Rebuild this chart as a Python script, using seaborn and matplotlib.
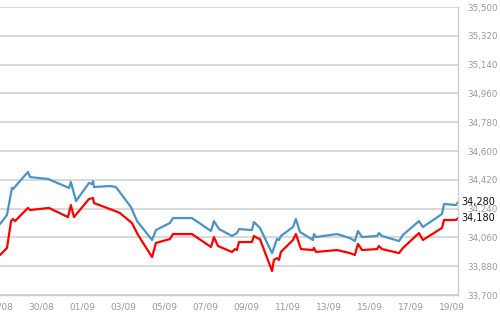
import numpy as np
import pandas as pd
import matplotlib
matplotlib.use("Agg")
import matplotlib.pyplot as plt
import matplotlib.dates as mdates
from matplotlib.ticker import FuncFormatter
import seaborn as sns

# ---- data (day offsets from 28/08 00:00, values) ----
start_date = "2025-08-28"
blue_days = [0.0, 0.34, 0.58, 0.63, 1.36, 1.46, 2.34, 3.36, 3.45, 3.70, 4.33, 4.48, 4.53, 4.57,
             5.35, 5.64, 6.37, 6.67, 7.40, 7.59, 8.27, 8.42, 9.34, 10.27, 10.41, 10.66, 11.29,
             11.53, 11.63, 12.26, 12.36, 12.51, 12.65, 13.24, 13.33, 13.48, 13.58, 13.67, 14.26,
             14.40, 14.60, 15.23, 15.28, 15.38, 16.40, 17.03, 17.27, 17.42, 17.62, 18.35, 18.44,
             18.59, 19.42, 19.61, 20.39, 20.58, 21.51, 21.61, 22.19, 22.29]
blue_vals = [34144, 34200, 34369, 34362, 34469, 34437, 34425, 34369, 34406, 34287, 34400, 34394,
             34412, 34375, 34381, 34375, 34250, 34162, 34044, 34106, 34150, 34181, 34181, 34100,
             34162, 34112, 34069, 34087, 34112, 34106, 34156, 34137, 34119, 33962, 33994, 34050,
             34044, 34069, 34125, 34175, 34094, 34044, 34081, 34062, 34081, 34056, 34037, 34100,
             34062, 34069, 34087, 34069, 34037, 34075, 34162, 34125, 34206, 34269, 34262, 34280]
red_days = [0.0, 0.34, 0.54, 0.63, 0.73, 1.36, 1.46, 2.38, 3.31, 3.45, 3.60, 4.33, 4.53, 4.57,
            5.35, 5.60, 5.84, 6.42, 6.72, 7.40, 7.59, 8.27, 8.42, 9.34, 10.27, 10.41, 10.61,
            11.29, 11.44, 11.53, 11.63, 12.26, 12.36, 12.51, 12.65, 13.24, 13.33, 13.48, 13.58,
            13.67, 14.26, 14.40, 14.65, 15.23, 15.28, 15.38, 16.40, 17.03, 17.27, 17.42, 17.62,
            18.35, 18.44, 18.59, 19.42, 19.61, 20.39, 20.58, 21.51, 21.61, 22.19, 22.29]
red_vals = [33950, 33994, 34162, 34175, 34162, 34244, 34231, 34244, 34187, 34262, 34187, 34300,
            34306, 34275, 34237, 34225, 34212, 34150, 34075, 33937, 34025, 34050, 34081, 34081,
            34000, 34062, 34006, 33969, 33987, 33981, 34031, 34031, 34069, 34056, 34050, 33850,
            33919, 33931, 33919, 33969, 34044, 34081, 33987, 33981, 33994, 33969, 33981, 33962,
            33950, 34019, 33981, 33987, 34006, 33987, 33962, 33994, 34087, 34044, 34119, 34169,
            34169, 34180]
y_ticks = [33700, 33880, 34060, 34240, 34420, 34600, 34780, 34960, 35140, 35320, 35500]
last_labels = ["34,280", "34,180"]
blue_color = "#4a93c8"
red_color = "#ff0000"

t0 = pd.Timestamp(start_date)
blue_df = pd.DataFrame({"t": t0 + pd.to_timedelta(blue_days, unit="D"), "v": blue_vals})
red_df = pd.DataFrame({"t": t0 + pd.to_timedelta(red_days, unit="D"), "v": red_vals})

sns.set_style("white")
plt.rcParams["font.family"] = ["DejaVu Sans"]

fig = plt.figure(figsize=(5.0, 3.12), dpi=100)
ax = fig.add_axes([0.0, 17 / 312, 458 / 500, 288 / 312])

sns.lineplot(data=blue_df, x="t", y="v", ax=ax, color=blue_color, linewidth=1.6, estimator=None, sort=False)
sns.lineplot(data=red_df, x="t", y="v", ax=ax, color=red_color, linewidth=1.6, estimator=None, sort=False)

ax.set_ylim(33700, 35500)
ax.set_xlim(t0, t0 + pd.Timedelta(days=22.29))
ax.set_xlabel("")
ax.set_ylabel("")

ax.yaxis.tick_right()
ax.set_yticks(y_ticks)
ax.yaxis.set_major_formatter(FuncFormatter(lambda v, p: f"{int(v):,}"))
ax.tick_params(axis="y", length=0, pad=6.5, labelsize=6.3, labelcolor="#9a9a9a")
ax.grid(axis="y", color="#d6d6d6", linewidth=1.3)
ax.grid(axis="x", visible=False)

xt = pd.date_range(t0, periods=12, freq="2D")
ax.set_xticks(xt)
ax.xaxis.set_major_formatter(mdates.DateFormatter("%d/%m"))
ax.tick_params(axis="x", length=4, width=0.8, color="#c0cfe0", pad=1.5, labelsize=6.5,
               labelcolor="#9a9a9a", direction="out")

for s in ["left", "top"]:
    ax.spines[s].set_visible(False)
ax.spines["bottom"].set_color("#c0cfe0")
ax.spines["bottom"].set_linewidth(1.0)
ax.spines["right"].set_color("#c8d0d8")
ax.spines["right"].set_linewidth(1.0)

# last value labels
for val, lab in zip([blue_vals[-1], red_vals[-1]], last_labels):
    ax.annotate(lab, xy=(1.0, val), xycoords=("axes fraction", "data"), xytext=(2.5, 0),
                textcoords="offset points", va="center", ha="left", fontsize=7.0, color="#111111")

fig.savefig("out.png", dpi=100, facecolor="white")
